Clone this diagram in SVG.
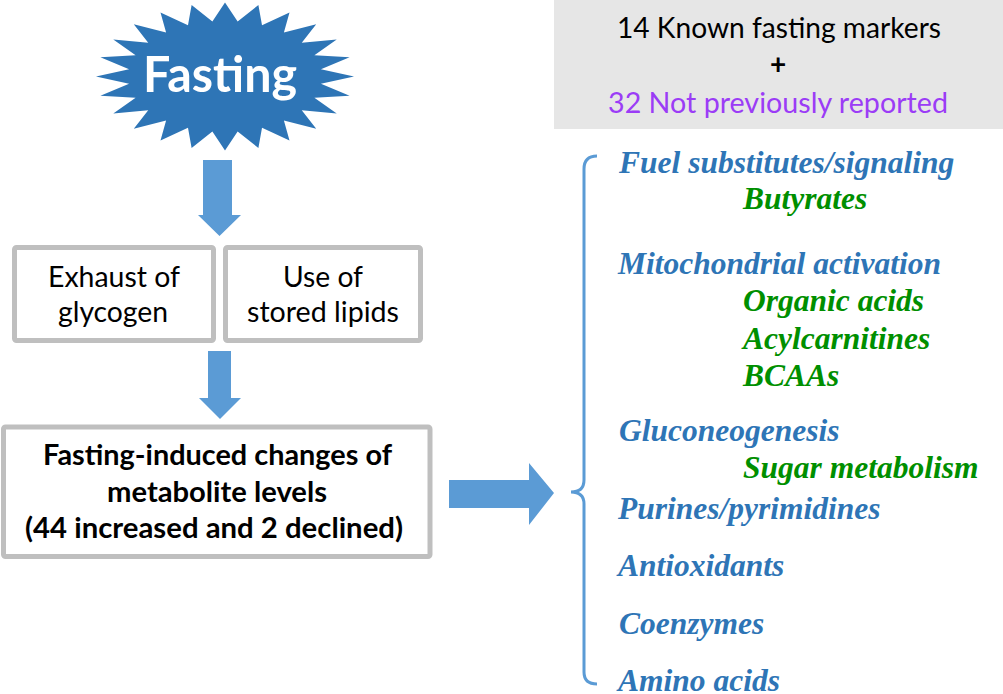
<svg xmlns="http://www.w3.org/2000/svg" width="1003" height="694" viewBox="0 0 1003 694">
<style>
.box{fill:#ffffff;stroke:#bfbfbf;stroke-width:5}
.arrow{fill:#5b9bd5}
.sans{font-family:Lato,"Liberation Sans",sans-serif;fill:#000}
.ser{font-family:"Liberation Serif","Times New Roman",serif;font-style:italic;font-weight:bold;font-size:31.5px}
.blue{fill:#2e75b6}
.green{fill:#008f00}
</style>
<rect width="1003" height="694" fill="#ffffff"/>
<g id="fasting">
<polygon fill="#2e75b6" transform="translate(225,76.5) scale(129,74)" points="1,0 .7435,.0979 .9659,.2588 .6929,.287 .866,.5 .595,.4566 .7071,.7071 .4566,.595 .5,.866 .287,.6929 .2588,.9659 .0979,.7435 0,1 -.0979,.7435 -.2588,.9659 -.287,.6929 -.5,.866 -.4566,.595 -.7071,.7071 -.595,.4566 -.866,.5 -.6929,.287 -.9659,.2588 -.7435,.0979 -1,0 -.7435,-.0979 -.9659,-.2588 -.6929,-.287 -.866,-.5 -.595,-.4566 -.7071,-.7071 -.4566,-.595 -.5,-.866 -.287,-.6929 -.2588,-.9659 -.0979,-.7435 0,-1 .0979,-.7435 .2588,-.9659 .287,-.6929 .5,-.866 .4566,-.595 .7071,-.7071 .595,-.4566 .866,-.5 .6929,-.287 .9659,-.2588 .7435,-.0979"/>
<text x="220" y="92" text-anchor="middle" font-family="Lato,'Liberation Sans',sans-serif" font-weight="bold" font-size="50" fill="#ffffff" textLength="154" lengthAdjust="spacingAndGlyphs">Fasting</text>
</g>
<g id="connectors">
<polygon class="arrow" points="203,160 232,160 232,215 241,215 219.5,236 198,215 203,215"/>
<polygon class="arrow" points="208,351 231,351 231,398 241,398 220,419 199,398 208,398"/>
<polygon class="arrow" points="449,480 529,480 529,463 554,493 529,525 529,508 449,508"/>
</g>
<g id="glycogen">
<rect class="box" x="14.5" y="247.5" width="199" height="93" rx="2"/>
<text class="sans" font-size="29" text-anchor="middle"><tspan x="114" y="287" textLength="132" lengthAdjust="spacingAndGlyphs">Exhaust of</tspan><tspan x="113" y="322" textLength="110" lengthAdjust="spacingAndGlyphs">glycogen</tspan></text>
</g>
<g id="lipids">
<rect class="box" x="225.5" y="247.5" width="195" height="93" rx="2"/>
<text class="sans" font-size="29" text-anchor="middle"><tspan x="323" y="287" textLength="80" lengthAdjust="spacingAndGlyphs">Use of</tspan><tspan x="323" y="322" textLength="152" lengthAdjust="spacingAndGlyphs">stored lipids</tspan></text>
</g>
<g id="changes">
<rect class="box" x="3.5" y="427" width="426.5" height="129.5" rx="2"/>
<text class="sans" font-size="28" font-weight="bold" text-anchor="middle"><tspan x="217.5" y="465" textLength="349" lengthAdjust="spacingAndGlyphs">Fasting-induced changes of</tspan><tspan x="217" y="502" textLength="220" lengthAdjust="spacingAndGlyphs">metabolite levels</tspan><tspan x="214" y="538" textLength="378" lengthAdjust="spacingAndGlyphs">(44 increased and 2 declined)</tspan></text>
</g>
<g id="markers">
<rect x="554" y="0" width="449" height="129" fill="#e6e6e6"/>
<text class="sans" font-size="28" text-anchor="middle"><tspan x="779" y="38" textLength="324" lengthAdjust="spacingAndGlyphs">14 Known fasting markers</tspan></text>
<text class="sans" font-size="28" font-weight="bold" text-anchor="middle" x="778" y="74">+</text>
<text class="sans" font-size="28" text-anchor="middle" style="fill:#9b3cf6"><tspan x="778" y="113" textLength="340" lengthAdjust="spacingAndGlyphs">32 Not previously reported</tspan></text>
</g>
<g id="categories">
<path d="M597,156 Q584,156 584,169 L584,480 Q584,492 571,492 Q584,492 584,504 L584,672 Q584,684 597,684" fill="none" stroke="#5b9bd5" stroke-width="3"/>
<text class="ser blue" x="619" y="173">Fuel substitutes/signaling</text>
<text class="ser green" x="743" y="209">Butyrates</text>
<text class="ser blue" x="618" y="274">Mitochondrial activation</text>
<text class="ser green" x="743" y="311">Organic acids</text>
<text class="ser green" x="743" y="349">Acylcarnitines</text>
<text class="ser green" x="743" y="386">BCAAs</text>
<text class="ser blue" x="619" y="441">Gluconeogenesis</text>
<text class="ser green" x="743" y="478">Sugar metabolism</text>
<text class="ser blue" x="618" y="519">Purines/pyrimidines</text>
<text class="ser blue" x="618" y="576">Antioxidants</text>
<text class="ser blue" x="619" y="634">Coenzymes</text>
<text class="ser blue" x="618" y="691">Amino acids</text>
</g>
</svg>
